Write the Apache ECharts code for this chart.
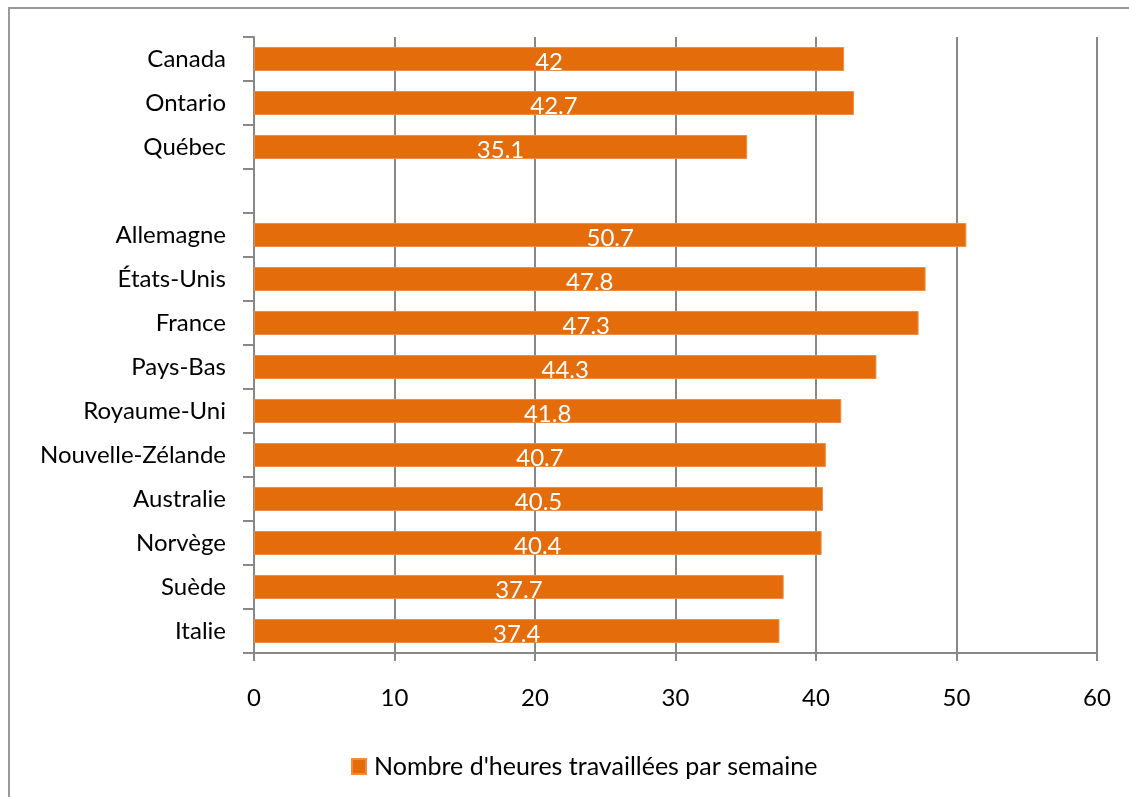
<!DOCTYPE html>
<html>
<head>
<meta charset="utf-8">
<script src="https://cdn.jsdelivr.net/npm/echarts@6/dist/echarts.min.js"></script>
<style>
  html, body { margin: 0; padding: 0; background: #fff; }
  #charts { width: 1129px; height: 797px; }
</style>
</head>
<body>
<div id="charts"></div>
<script>
// categories top to bottom, blank row separates provinces from countries
const categories = ['Canada', 'Ontario', 'Québec', '', 'Allemagne', 'États-Unis', 'France',
  'Pays-Bas', 'Royaume-Uni', 'Nouvelle-Zélande', 'Australie', 'Norvège', 'Suède', 'Italie']
const hours = [42, 42.7, 35.1, null, 50.7, 47.8, 47.3, 44.3, 41.8, 40.7, 40.5, 40.4, 37.7, 37.4]
const seriesName = "Nombre d'heures travaillées par semaine"
const xTicks = [0, 10, 20, 30, 40, 50, 60]

const font = 'Lato, "Open Sans", sans-serif'
const axisGray = '#888888'
const orange = '#E46C0A'

const charts = echarts.init(document.getElementById('charts'))
const option = {
  animation: false,
  textStyle: { fontFamily: font },
  graphic: [
    {
      type: 'rect',
      shape: { x: 9, y: 8, width: 1200, height: 900 },
      style: { fill: 'none', stroke: '#999', lineWidth: 2 }
    }
  ],
  grid: { left: 254, right: 32, top: 37, bottom: 144, containLabel: false },
  legend: {
    data: [{ name: seriesName, icon: 'rect' }],
    left: 346,
    top: 749,
    itemWidth: 14,
    itemHeight: 15,
    itemGap: 8,
    textStyle: { fontSize: 25, color: '#000', fontFamily: font, padding: [0, 0, 0, 3] }
  },
  xAxis: {
    type: 'value',
    min: xTicks[0],
    max: xTicks[xTicks.length - 1],
    interval: 10,
    axisLine: { show: true, lineStyle: { color: axisGray, width: 2 } },
    axisTick: { show: true, length: 8, lineStyle: { color: axisGray, width: 2 } },
    axisLabel: { fontSize: 24, color: '#000', margin: 33 },
    splitLine: { show: true, lineStyle: { color: axisGray, width: 2 } }
  },
  yAxis: {
    type: 'category',
    inverse: true,
    data: categories,
    axisLine: { show: true, lineStyle: { color: axisGray, width: 2 } },
    axisTick: { show: true, length: 11, lineStyle: { color: axisGray, width: 2 } },
    axisLabel: { fontSize: 24, color: '#000', margin: 28 }
  },
  series: [
    {
      name: seriesName,
      type: 'bar',
      data: hours,
      barWidth: 24,
      itemStyle: { color: orange, borderColor: '#F08C40', borderWidth: 1 },
      label: {
        show: true,
        position: 'inside',
        color: '#fff',
        fontSize: 24,
        offset: [0, 3]
      }
    }
  ]
}
charts.setOption(option)
</script>
</body>
</html>
